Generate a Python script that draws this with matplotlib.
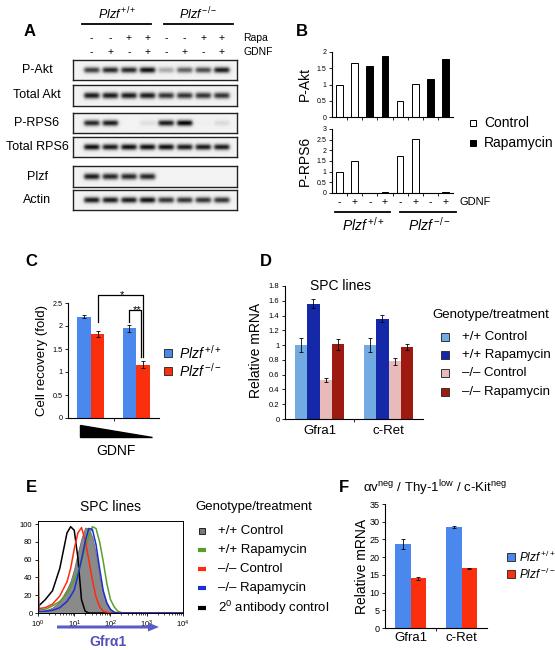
import numpy as np
import matplotlib
matplotlib.use('Agg')
import matplotlib.pyplot as plt
from matplotlib.patches import Polygon, FancyArrow
from matplotlib.ticker import FuncFormatter, FixedLocator, NullFormatter

plt.rcParams['font.family'] = ['Liberation Sans', 'DejaVu Sans']
plt.rcParams['mathtext.fontset'] = 'custom'
plt.rcParams['mathtext.rm'] = 'Liberation Sans'
plt.rcParams['mathtext.it'] = 'Liberation Sans:italic'
plt.rcParams['mathtext.bf'] = 'Liberation Sans:bold'
plt.rcParams['axes.linewidth'] = 0.8

# ---------------- data ----------------
blot_labels = ['P-Akt', 'Total Akt', 'P-RPS6', 'Total RPS6', 'Plzf', 'Actin']
band_p_akt = [0.75, 0.85, 0.85, 0.95, 0.30, 0.60, 0.70, 0.90]
band_total_akt = [0.90, 0.90, 0.90, 0.90, 0.80, 0.80, 0.80, 0.80]
band_p_rps6 = [0.85, 0.90, 0.00, 0.08, 0.90, 1.00, 0.02, 0.10]
band_total_rps6 = [0.95, 0.90, 0.95, 0.95, 0.95, 0.90, 0.90, 0.90]
band_plzf = [0.90, 0.85, 0.85, 0.85, 0.00, 0.00, 0.00, 0.00]
band_actin = [0.90, 0.90, 0.90, 0.95, 0.80, 0.80, 0.80, 0.80]
rapa_signs = ['-', '-', '+', '+', '-', '-', '+', '+']
gdnf_signs = ['-', '+', '-', '+', '-', '+', '-', '+']

b_treatment = ['Control', 'Control', 'Rapamycin', 'Rapamycin',
               'Control', 'Control', 'Rapamycin', 'Rapamycin']
b_p_akt = [1.00, 1.65, 1.57, 1.88, 0.48, 1.03, 1.18, 1.80]
b_p_rps6 = [1.00, 1.48, 0.02, 0.04, 1.75, 2.55, 0.02, 0.06]

c_wt = [2.20, 1.95]
c_wt_err = [0.03, 0.07]
c_ko = [1.83, 1.16]
c_ko_err = [0.06, 0.08]

d_genes = ['Gfra1', 'c-Ret']
d_labels = ['+/+ Control', '+/+ Rapamycin', '–/– Control', '–/– Rapamycin']
d_wt_ctrl = [1.00, 1.00]
d_wt_ctrl_err = [0.09, 0.09]
d_wt_rapa = [1.56, 1.36]
d_wt_rapa_err = [0.06, 0.05]
d_ko_ctrl = [0.53, 0.78]
d_ko_ctrl_err = [0.03, 0.05]
d_ko_rapa = [1.01, 0.97]
d_ko_rapa_err = [0.07, 0.04]

e_labels = ['+/+ Control', '+/+ Rapamycin', '–/– Control', '–/– Rapamycin',
            '2$^{0}$ antibody control']
e_log_gfra1 = [0, 0.02, 0.2, 0.4, 0.6, 0.8, 0.9, 1.0, 1.1, 1.2, 1.3, 1.4,
               1.5, 1.6, 1.7, 1.8, 1.9, 2.0, 2.1, 2.2, 2.3, 2.4, 4.0]
e_wt_ctrl = [2, 2, 3, 6, 13, 27, 36, 50, 68, 84, 96, 95, 85, 66, 40, 22, 11, 4, 1.5, 0.5, 0, 0, 0]
e_wt_rapa = [100, 4, 4, 8, 13, 22, 29, 37, 47, 58, 72, 86, 97, 95, 80, 58, 33, 15, 7, 2, 0.5, 0, 0]
e_ko_ctrl = [97, 5, 6, 10, 19, 35, 50, 72, 90, 96, 82, 60, 37, 18, 7, 2, 1, 0, 0, 0, 0, 0, 0]
e_ko_rapa = [25, 2, 2, 3, 6, 13, 19, 26, 42, 60, 80, 95, 94, 77, 50, 25, 11, 4, 1, 0, 0, 0, 0]
e_secondary = [7, 8, 15, 25, 50, 90, 97, 93, 62, 15, 2, 0, 0, 0, 0, 0, 0, 0, 0, 0, 0, 0, 0]

f_genes = ['Gfra1', 'c-Ret']
f_wt = [23.8, 28.5]
f_wt_err = [1.4, 0.4]
f_ko = [14.0, 16.8]
f_ko_err = [0.5, 0.2]

# ---------------- styles ----------------
W, H = 555, 650
BLUE = '#4a88ee'
RED = '#fa2f0d'
D_COLORS = ['#72aae2', '#1428a8', '#e9baba', '#9c1a10']
E_COLORS = ['#8a8a8a', '#5a9e2a', '#ff2a10', '#1a30d0', '#000000']
PLZF_WT = r'$\mathit{Plzf}^{\,\mathrm{+/+}}$'
PLZF_KO = r'$\mathit{Plzf}^{\,\mathrm{-/-}}$'
fmt_g = FuncFormatter(lambda v, p: f'{v:g}')

fig = plt.figure(figsize=(W / 100, H / 100), dpi=100)


def ax_px(l, t, r, b, **kw):
    return fig.add_axes([l / W, 1 - b / H, (r - l) / W, (b - t) / H], **kw)


ov = fig.add_axes([0, 0, 1, 1], zorder=20)
ov.set_xlim(0, W)
ov.set_ylim(H, 0)
ov.axis('off')
ov.patch.set_alpha(0)


def simple_axes(ax, tick_fs):
    for s in ['top', 'right']:
        ax.spines[s].set_visible(False)
    ax.tick_params(axis='y', direction='out', length=2.5, width=0.6,
                   labelsize=tick_fs, pad=1.5)
    ax.tick_params(axis='x', direction='out', length=2.5, width=0.6)


# ---------------- Panel A ----------------
ov.text(30, 32, 'A', fontsize=12, fontweight='bold', ha='center', va='center')
rows_px = [(60, 80), (85, 106), (113, 133), (137, 157), (166, 187), (190, 210)]
bands = [band_p_akt, band_total_akt, band_p_rps6, band_total_rps6, band_plzf, band_actin]
xs = np.linspace(0, 8.8, 352)
ys = np.linspace(0, 1, 40)
X, Y = np.meshgrid(xs, ys)
for (t, b), lab, vals in zip(rows_px, blot_labels, bands):
    ax = ax_px(73, t, 237, b)
    dark = np.zeros_like(X)
    for i, v in enumerate(vals):
        hx = 1 / (1 + np.exp((np.abs(X - (1.0 + i)) - 0.40) / 0.05))
        vy = np.exp(-((Y - 0.5) / 0.15) ** 2)
        dark += v * hx * vy
    img = np.clip(0.95 - 0.95 * dark, 0, 1)
    ax.imshow(img, cmap='gray', vmin=0, vmax=1, extent=(0, 8.8, 0, 1),
              aspect='auto', origin='lower', interpolation='bilinear')
    ax.set_xticks([])
    ax.set_yticks([])
    for s in ax.spines.values():
        s.set_linewidth(1.0)
        s.set_color('#222222')
    ov.text(37, (t + b) / 2, lab, fontsize=9, ha='center', va='center')

lane_x = [73 + 18.6 * (i + 1) for i in range(8)]
for x, r_, g_ in zip(lane_x, rapa_signs, gdnf_signs):
    ov.text(x, 38, r_, fontsize=7.5, ha='center', va='center')
    ov.text(x, 52, g_, fontsize=7.5, ha='center', va='center')
ov.text(243, 38, 'Rapa', fontsize=7.5, ha='left', va='center')
ov.text(243, 52, 'GDNF', fontsize=7.5, ha='left', va='center')
ov.text(117, 14, PLZF_WT, fontsize=9, ha='center', va='center')
ov.text(198, 14, PLZF_KO, fontsize=9, ha='center', va='center')
ov.plot([82, 151], [24, 24], color='black', lw=1.3)
ov.plot([164, 233], [24, 24], color='black', lw=1.3)

# ---------------- Panel B ----------------
ov.text(302, 32, 'B', fontsize=12, fontweight='bold', ha='center', va='center')
xb = np.arange(len(b_p_akt))
bcol = ['white' if t == 'Control' else 'black' for t in b_treatment]
axb1 = ax_px(332, 52, 453, 117)
axb2 = ax_px(332, 129, 453, 193)
for ax, vals, ymax, lab, yc in [(axb1, b_p_akt, 2, 'P-Akt', 84),
                                (axb2, b_p_rps6, 3, 'P-RPS6', 161)]:
    ax.bar(xb, vals, width=0.45, color=bcol, edgecolor='black', linewidth=0.7)
    ax.set_xlim(-0.5, 7.5)
    ax.set_ylim(0, ymax)
    ax.set_yticks(np.arange(0, ymax + 0.01, 0.5))
    ax.yaxis.set_major_formatter(fmt_g)
    ax.set_xticks(np.arange(0.5, 7, 1))
    ax.set_xticklabels([])
    simple_axes(ax, 5)
    ax.patch.set_alpha(0)
    ov.text(305, yc, lab, fontsize=10, rotation=90, ha='center', va='center')

for i, g_ in enumerate(gdnf_signs):
    ov.text(332 + 15.125 * (i + 0.5), 202, g_, fontsize=7.5, ha='center', va='center')
ov.text(460, 202, 'GDNF', fontsize=8, ha='left', va='center')
ov.plot([335, 390], [212, 212], color='black', lw=1.3)
ov.plot([400, 456], [212, 212], color='black', lw=1.3)
ov.text(363, 225, PLZF_WT, fontsize=10, ha='center', va='center')
ov.text(429, 225, PLZF_KO, fontsize=10, ha='center', va='center')
ov.plot([473], [123], marker='s', ms=5, mfc='white', mec='black', mew=0.7)
ov.plot([473], [143], marker='s', ms=5, mfc='black', mec='black', mew=0.7)
ov.text(484, 123, 'Control', fontsize=10, ha='left', va='center')
ov.text(484, 143, 'Rapamycin', fontsize=10, ha='left', va='center')

# ---------------- Panel C ----------------
ov.text(31, 262, 'C', fontsize=12, fontweight='bold', ha='center', va='center')
axc = ax_px(68, 303, 159, 418)
xc = np.arange(len(c_wt))
axc.bar(xc - 0.15, c_wt, width=0.3, color=BLUE)
axc.bar(xc + 0.15, c_ko, width=0.3, color=RED)
axc.errorbar(xc - 0.15, c_wt, yerr=c_wt_err, fmt='none', ecolor='black',
             elinewidth=0.6, capsize=1.5, capthick=0.6)
axc.errorbar(xc + 0.15, c_ko, yerr=c_ko_err, fmt='none', ecolor='black',
             elinewidth=0.6, capsize=1.5, capthick=0.6)
axc.set_xlim(-0.5, 1.5)
axc.set_ylim(0, 2.5)
axc.set_yticks(np.arange(0, 2.51, 0.5))
axc.yaxis.set_major_formatter(fmt_g)
axc.set_xticks([0.5])
axc.set_xticklabels([])
simple_axes(axc, 5.2)
axc.plot([0.15, 0.15, 1.15, 1.15], [2.08, 2.67, 2.67, 1.32], color='black',
         lw=0.9, clip_on=False)
axc.plot([0.85, 0.85, 1.11, 1.11], [2.09, 2.35, 2.35, 1.32], color='black',
         lw=0.9, clip_on=False)
axc.text(0.68, 2.61, '*', fontsize=8, ha='center', va='baseline')
axc.text(1.01, 2.28, '**', fontsize=8, ha='center', va='baseline')
ov.text(42, 360, 'Cell recovery (fold)', fontsize=9.5, rotation=90,
        ha='center', va='center')
ov.add_patch(Polygon([(80, 425), (80, 437), (152, 437)], closed=True,
                     color='black'))
ov.text(116, 451, 'GDNF', fontsize=10, ha='center', va='center')
ov.plot([168], [353], marker='s', ms=5.5, mfc=BLUE, mec='#333333', mew=0.7)
ov.plot([168], [371], marker='s', ms=5.5, mfc=RED, mec='#333333', mew=0.7)
ov.text(179, 353, PLZF_WT, fontsize=10, ha='left', va='center')
ov.text(179, 371, PLZF_KO, fontsize=10, ha='left', va='center')

# ---------------- Panel D ----------------
ov.text(266, 262, 'D', fontsize=12, fontweight='bold', ha='center', va='center')
axd = ax_px(285, 286, 423, 419)
xd = np.arange(len(d_genes))
wd = 0.178
d_vals = [d_wt_ctrl, d_wt_rapa, d_ko_ctrl, d_ko_rapa]
d_errs = [d_wt_ctrl_err, d_wt_rapa_err, d_ko_ctrl_err, d_ko_rapa_err]
for k, (v, e, c) in enumerate(zip(d_vals, d_errs, D_COLORS)):
    xx = xd + (k - 1.5) * wd
    axd.bar(xx, v, width=wd, color=c)
    axd.errorbar(xx, v, yerr=e, fmt='none', ecolor='black', elinewidth=0.6,
                 capsize=1.5, capthick=0.6)
axd.set_xlim(-0.5, 1.5)
axd.set_ylim(0, 1.8)
axd.set_yticks(np.arange(0, 1.81, 0.2))
axd.yaxis.set_major_formatter(fmt_g)
axd.set_xticks(xd)
axd.set_xticklabels(d_genes, fontsize=9.5)
axd.xaxis.set_minor_locator(FixedLocator([0.5]))
simple_axes(axd, 5.5)
axd.tick_params(axis='x', which='major', length=0, pad=4)
axd.tick_params(axis='x', which='minor', length=2.5, width=0.6)
axd.set_title('SPC lines', fontsize=10, pad=0, x=0.4, y=0.97)
ov.text(256, 350, 'Relative mRNA', fontsize=10, rotation=90, ha='center', va='center')
ov.text(432, 315, 'Genotype/treatment', fontsize=9.5, ha='left', va='center')
for yy, lab, c in zip([337, 355, 373, 392], d_labels, D_COLORS):
    ov.plot([445], [yy], marker='s', ms=5.5, mfc=c, mec='#333333', mew=0.7)
    ov.text(462, yy, lab, fontsize=9.5, ha='left', va='center')

# ---------------- Panel E ----------------
ov.text(31, 488, 'E', fontsize=12, fontweight='bold', ha='center', va='center')
axe = ax_px(38, 521, 183, 613)
xe = 10 ** np.array(e_log_gfra1)
axe.fill_between(xe, e_wt_ctrl, color=E_COLORS[0], lw=0.6, edgecolor='#6a6a6a')
axe.plot(xe, e_secondary, color=E_COLORS[4], lw=1.1)
axe.plot(xe, e_wt_rapa, color=E_COLORS[1], lw=1.1)
axe.plot(xe, e_ko_ctrl, color=E_COLORS[2], lw=1.1)
axe.plot(xe, e_ko_rapa, color=E_COLORS[3], lw=1.1)
axe.set_xscale('log')
axe.set_xlim(1, 1e4)
axe.set_ylim(0, 103.4)
axe.set_yticks(np.arange(0, 101, 20))
axe.set_xticks([1, 10, 100, 1000, 10000])
axe.set_xticklabels([r'$10^{0}$', r'$10^{1}$', r'$10^{2}$', r'$10^{3}$', r'$10^{4}$'])
axe.tick_params(axis='both', which='major', direction='out', length=2.5, width=0.6,
                labelsize=5.5, pad=1.5)
axe.tick_params(axis='x', which='minor', direction='out', length=1.5, width=0.5)
axe.xaxis.set_minor_formatter(NullFormatter())
for s in axe.spines.values():
    s.set_linewidth(0.7)
ov.text(110, 507, 'SPC lines', fontsize=10, ha='center', va='center')
ov.add_patch(FancyArrow(57, 627, 91, 0, width=3, head_width=9, head_length=11,
                        length_includes_head=False, color='#5a5ac8', lw=0))
ov.text(108, 642, 'Gfrα1', fontsize=10, fontweight='bold', color='#5050b8',
        ha='center', va='center')
ov.text(195, 507, 'Genotype/treatment', fontsize=9.5, ha='left', va='center')
e_y = [531, 550, 569, 588, 608]
ov.plot([202], [e_y[0]], marker='s', ms=4.5, mfc='#7a7a7a', mec='#222222', mew=0.7)
for yy, c in zip(e_y[1:], E_COLORS[1:]):
    ov.plot([198, 206], [yy, yy], color=c, lw=3, solid_capstyle='butt')
for yy, lab in zip(e_y, e_labels):
    ov.text(218, yy, lab, fontsize=9.5, ha='left', va='center')

# ---------------- Panel F ----------------
ov.text(344, 488, 'F', fontsize=12, fontweight='bold', ha='center', va='center')
ov.text(363, 488, r'αv$^{\mathrm{neg}}$ / Thy-1$^{\mathrm{low}}$ / c-Kit$^{\mathrm{neg}}$',
        fontsize=9.5, ha='left', va='center')
axf = ax_px(385, 504, 487, 628)
xf = np.arange(len(f_genes))
axf.bar(xf - 0.15, f_wt, width=0.3, color=BLUE)
axf.bar(xf + 0.15, f_ko, width=0.3, color=RED)
axf.errorbar(xf - 0.15, f_wt, yerr=f_wt_err, fmt='none', ecolor='black',
             elinewidth=0.6, capsize=1.5, capthick=0.6)
axf.errorbar(xf + 0.15, f_ko, yerr=f_ko_err, fmt='none', ecolor='black',
             elinewidth=0.6, capsize=1.5, capthick=0.6)
axf.set_xlim(-0.5, 1.5)
axf.set_ylim(0, 35)
axf.set_yticks(np.arange(0, 36, 5))
axf.set_xticks(xf)
axf.set_xticklabels(f_genes, fontsize=9.5)
axf.xaxis.set_minor_locator(FixedLocator([0.5]))
simple_axes(axf, 6.5)
axf.tick_params(axis='x', which='major', length=0, pad=3)
axf.tick_params(axis='x', which='minor', length=2.5, width=0.6)
ov.text(362, 566, 'Relative mRNA', fontsize=10, rotation=90, ha='center', va='center')
ov.plot([511], [557], marker='s', ms=5.5, mfc=BLUE, mec='#333333', mew=0.7)
ov.plot([511], [574], marker='s', ms=5.5, mfc=RED, mec='#333333', mew=0.7)
ov.text(519, 557, PLZF_WT, fontsize=8.5, ha='left', va='center')
ov.text(519, 574, PLZF_KO, fontsize=8.5, ha='left', va='center')

fig.savefig('out.png', dpi=100)
